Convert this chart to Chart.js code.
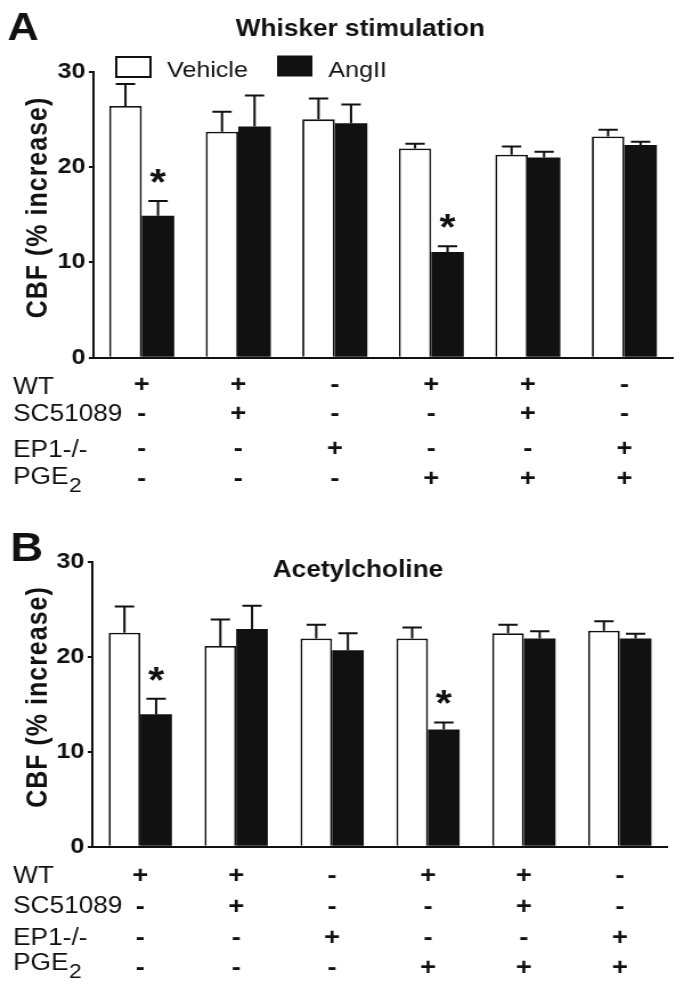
<!DOCTYPE html>
<html>
<head>
<meta charset="utf-8">
<script src="https://cdn.jsdelivr.net/npm/chart.js@4.4.0/dist/chart.umd.min.js"></script>
<style>
    html, body { margin: 0; padding: 0; background: #fff; }
    body { width: 684px; height: 992px; position: relative; overflow: hidden; }
    /* the source figure is drawn a bit wide, so each panel is stretched sideways */
    .panel { position: absolute; left: 0; width: 600px; height: 496px; transform: scaleX(1.14); transform-origin: 0 0; }
    .panel canvas { display: block; }
</style>
</head>
<body>
<div class="panel" style="top:0"><canvas id="chartA" width="600" height="496"></canvas></div>
<div class="panel" style="top:496px"><canvas id="chartB" width="600" height="496"></canvas></div>
<script>
// ======================
// DATA
// ======================
const groupLabels = ["1", "2", "3", "4", "5", "6"];
const seriesNames = ["Vehicle", "AngII"];
const rowNames = ["WT", "SC51089", "EP1-/-", "PGE"];
const rowSubs = ["", "", "", "2"];
const wtSigns = ["+", "+", "-", "+", "+", "-"];
const scSigns = ["-", "+", "-", "-", "+", "-"];
const ep1Signs = ["-", "-", "+", "-", "-", "+"];
const pgeSigns = ["-", "-", "-", "+", "+", "+"];
const yTicks = [0, 10, 20, 30];

// panel A - whisker stimulation
const whiskerVehicle = [26.4, 23.7, 25.0, 21.95, 21.3, 23.2];
const whiskerVehicleSem = [2.3, 2.1, 2.2, 0.5, 0.85, 0.7];
const whiskerAngII = [14.9, 24.25, 24.6, 11.1, 21.0, 22.3];
const whiskerAngIISem = [1.55, 3.25, 1.95, 0.6, 0.6, 0.35];
const whiskerStars = [0, 3];

// panel B - acetylcholine
const achVehicle = [22.55, 21.15, 21.95, 21.95, 22.5, 22.75];
const achVehicleSem = [2.75, 2.8, 1.45, 1.15, 0.9, 1.0];
const achAngII = [13.95, 22.95, 20.7, 12.35, 21.95, 21.95];
const achAngIISem = [1.65, 2.45, 1.8, 0.75, 0.75, 0.5];
const achStars = [0, 3];

const FONT = "'Liberation Sans', Arial, Helvetica, sans-serif";
const INK = "#111";
const signRows = [wtSigns, scSigns, ep1Signs, pgeSigns];

// ======================
// EXTRA DRAWING (titles, legend, error bars, sign table)
// ======================
const figurePlugin = {
    id: "figure",
    afterDatasetsDraw(chart) {
        const L = chart.options.plugins.figure;
        const ctx = chart.ctx;
        const y = chart.scales.y;
        ctx.save();
        ctx.strokeStyle = INK;
        ctx.lineWidth = 2;
        chart.data.datasets.forEach((ds, d) => {
            const meta = chart.getDatasetMeta(d);
            meta.data.forEach((bar, i) => {
                const top = y.getPixelForValue(ds.data[i] + L.sem[d][i]);
                ctx.beginPath();
                ctx.moveTo(bar.x, bar.y);
                ctx.lineTo(bar.x, top);
                ctx.moveTo(bar.x - 8.5, top);
                ctx.lineTo(bar.x + 8.5, top);
                ctx.stroke();
            });
        });
        // asterisks over AngII bars
        const angMeta = chart.getDatasetMeta(1);
        const angData = chart.data.datasets[1].data;
        ctx.fillStyle = INK;
        ctx.font = "bold 36px " + FONT;
        ctx.textAlign = "center";
        ctx.textBaseline = "alphabetic";
        L.stars.forEach(i => {
            const top = y.getPixelForValue(angData[i] + L.sem[1][i]);
            ctx.fillText("*", angMeta.data[i].x, top - 6);
        });
        ctx.restore();
    },
    afterDraw(chart) {
        const L = chart.options.plugins.figure;
        const ctx = chart.ctx;
        const x = chart.scales.x;
        ctx.save();
        ctx.fillStyle = INK;
        ctx.textBaseline = "alphabetic";

        // panel letter
        ctx.textAlign = "left";
        ctx.font = "bold " + L.letterSize + "px " + FONT;
        ctx.fillText(L.letter, L.letterX, L.letterY);

        // title
        ctx.textAlign = "center";
        ctx.font = "bold 23px " + FONT;
        ctx.fillText(L.title, L.titleX, L.titleY);

        // y axis title
        ctx.save();
        ctx.translate(40.5, L.yTitleY);
        ctx.rotate(-Math.PI / 2);
        ctx.font = "bold 25px " + FONT;
        ctx.letterSpacing = "1px";
        ctx.fillText("CBF (% increase)", 0, 0);
        ctx.restore();

        // legend (panel A only)
        if (L.legend) {
            ctx.lineWidth = 2;
            ctx.strokeStyle = INK;
            ctx.fillStyle = "#fff";
            ctx.fillRect(102, 57, 30, 20);
            ctx.strokeRect(102, 57, 30, 20);
            ctx.fillStyle = INK;
            ctx.fillRect(243, 55.5, 31, 21);
            ctx.textAlign = "left";
            ctx.font = "22px " + FONT;
            ctx.fillText(seriesNames[0], 146.5, 77);
            ctx.fillText(seriesNames[1], 288, 76.5);
        }

        // sign table below the axis
        rowNames.forEach((name, r) => {
            ctx.textAlign = "left";
            ctx.font = "23px " + FONT;
            ctx.fillText(name, 11.5, L.labelY[r]);
            if (rowSubs[r]) {
                const w = ctx.measureText(name).width;
                ctx.font = "20px " + FONT;
                ctx.fillText(rowSubs[r], 11.5 + w + 0.5, L.labelY[r] + 8);
            }
            ctx.textAlign = "center";
            ctx.font = "bold 24px " + FONT;
            signRows[r].forEach((s, i) => {
                ctx.fillText(s, x.getPixelForValue(i), L.signY[r]);
            });
        });
        ctx.restore();
    }
};

// ======================
// BUILD ONE PANEL
// ======================
function makePanel(id, vehicle, angII, vehicleSem, angIISem, stars, L) {
    const canvas = document.getElementById(id);
    return new Chart(canvas, {
        type: "bar",
        data: {
            labels: groupLabels,
            datasets: [
                {
                    label: seriesNames[0],
                    data: vehicle,
                    backgroundColor: "#fff",
                    borderColor: INK,
                    borderWidth: 1.8
                },
                {
                    label: seriesNames[1],
                    data: angII,
                    backgroundColor: INK,
                    borderColor: INK,
                    borderWidth: 0
                }
            ]
        },
        options: {
            responsive: false,
            animation: false,
            devicePixelRatio: 1,
            layout: { padding: { top: L.top, right: 600 - L.right, bottom: 0, left: 0 } },
            datasets: { bar: { barPercentage: 1, categoryPercentage: L.catPct } },
            scales: {
                x: {
                    grid: { display: false },
                    border: { display: true, color: INK, width: 2 },
                    ticks: { display: false },
                    afterFit: s => { s.height = 496 - L.bottom; }
                },
                y: {
                    min: 0,
                    max: 30,
                    afterBuildTicks: s => { s.ticks = yTicks.map(v => ({ value: v })); },
                    grid: { display: true, drawOnChartArea: false, tickLength: 4, color: INK, lineWidth: 2 },
                    border: { display: true, color: INK, width: 2 },
                    ticks: { color: INK, padding: 3, font: { family: FONT, size: 22, weight: "bold" } },
                    afterFit: s => { s.width = L.left; }
                }
            },
            plugins: {
                legend: { display: false },
                title: { display: false },
                tooltip: { enabled: false },
                figure: Object.assign({ sem: [vehicleSem, angIISem], stars: stars }, L)
            }
        },
        plugins: [figurePlugin]
    });
}

makePanel("chartA", whiskerVehicle, whiskerAngII, whiskerVehicleSem, whiskerAngIISem, whiskerStars, {
    letter: "A", letterSize: 38, letterX: 6.5, letterY: 40,
    title: "Whisker stimulation", titleX: 316, titleY: 36,
    top: 71.7, left: 82, right: 590, bottom: 357.7, catPct: 0.674,
    yTitleY: 207.5, legend: true,
    labelY: [393.5, 420.5, 456.5, 483.5],
    signY: [392, 421, 456, 486]
});

makePanel("chartB", achVehicle, achAngII, achVehicleSem, achAngIISem, achStars, {
    letter: "B", letterSize: 40, letterX: 9, letterY: 65,
    title: "Acetylcholine", titleX: 314, titleY: 81,
    top: 66, left: 81, right: 585.7, bottom: 350.7, catPct: 0.66,
    yTitleY: 201, legend: false,
    labelY: [387.3, 417.3, 449, 474],
    signY: [387, 418, 449, 479]
});
</script>
</body>
</html>
